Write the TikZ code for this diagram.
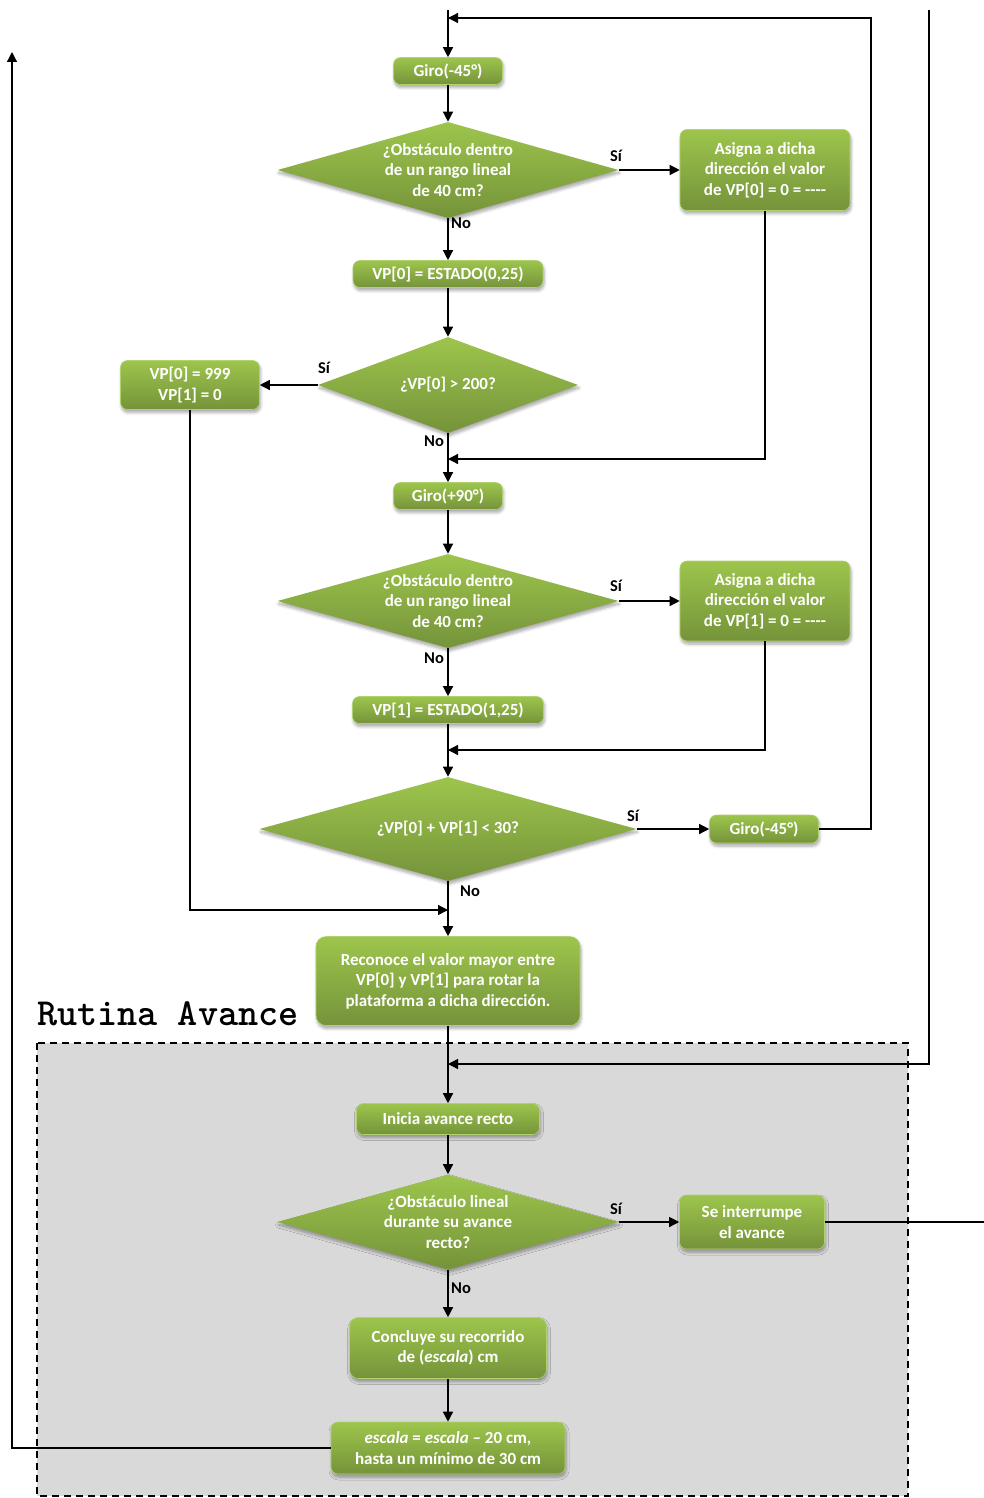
\documentclass[tikz,border=0pt]{standalone}
\usepackage{fontspec}
\setmainfont{Carlito}
\newfontfamily\titlefont{lmmonolt10-bold.otf}
\usetikzlibrary{shapes.geometric,shadows.blur,arrows.meta}
\definecolor{gtop}{HTML}{9DC54C}
\definecolor{gbot}{HTML}{75933A}
\definecolor{gedge}{HTML}{B0D270}
\definecolor{panel}{HTML}{D9D9D9}
\begin{document}
\begin{tikzpicture}[x=1pt,y=-1pt,
  base/.style={top color=gtop,bottom color=gbot,draw=gedge,line width=0.6pt,
    blur shadow={shadow xshift=1pt,shadow yshift=-3pt,shadow opacity=35,shadow blur steps=6,shadow blur radius=3pt}},
  box/.style={base,rounded corners=7pt,inner sep=1pt,align=center,text=white,
    font=\fontsize{17}{20.5}\selectfont\bfseries},
  dia/.style={base,diamond,draw=none,inner sep=0pt},
  dtxt/.style={text=white,align=center,font=\fontsize{17}{20.5}\selectfont\bfseries},
  arr/.style={line width=1.3pt,-{Triangle[length=10pt,width=10pt]}},
  ln/.style={line width=1.3pt},
  lab/.style={font=\fontsize{16.5}{18}\selectfont\bfseries,inner sep=0pt}
]
\useasboundingbox (0,0) rectangle (984,1498);
% panel
\draw[fill=panel,line width=1.3pt,dash pattern=on 7pt off 5pt] (37,1043) rectangle (908,1496);
\node[font=\titlefont\fontsize{38.3}{40}\selectfont,anchor=base west,inner sep=0pt] (title) at (37,1025) {Rutina Avance};

% nodes
\node[box,minimum width=109pt,minimum height=27pt] (g1) at (448,71) {Giro(-45°)};
\node[dia,minimum width=341pt,minimum height=96pt,
  label={[dtxt]center:{¿Obstáculo dentro\\de un rango lineal\\de 40 cm?}}] (d1) at (448,170) {};
\node[box,minimum width=170pt,minimum height=81pt] (a1) at (765,170) {Asigna a dicha\\dirección el valor\\de VP[0] = 0 = -{}-{}-{}-};
\node[box,minimum width=190pt,minimum height=27pt] (e0) at (448,274) {VP[0] = ESTADO(0,25)};
\node[dia,minimum width=260pt,minimum height=96pt,
  label={[dtxt]center:{¿VP[0] > 200?}}] (d2) at (448,385) {};
\node[box,minimum width=139pt,minimum height=49pt] (vp) at (190,385) {VP[0] = 999\\VP[1] = 0};
\node[box,minimum width=109pt,minimum height=27pt] (g2) at (448,496) {Giro(+90°)};
\node[dia,minimum width=341pt,minimum height=94pt,
  label={[dtxt]center:{¿Obstáculo dentro\\de un rango lineal\\de 40 cm?}}] (d3) at (448,601) {};
\node[box,minimum width=170pt,minimum height=80pt] (a2) at (765,601) {Asigna a dicha\\dirección el valor\\de VP[1] = 0 = -{}-{}-{}-};
\node[box,minimum width=191pt,minimum height=27pt] (e1) at (448,710) {VP[1] = ESTADO(1,25)};
\node[dia,minimum width=377pt,minimum height=104pt,
  label={[dtxt]center:{¿VP[0] + VP[1] < 30?}}] (d4) at (448,829) {};
\node[box,minimum width=109pt,minimum height=28pt] (g3) at (764,829) {Giro(-45°)};
\node[box,minimum width=264pt,minimum height=89pt,rounded corners=10pt] (rec) at (448,981) {Reconoce el valor mayor entre\\VP[0] y VP[1] para rotar la\\plataforma a dicha dirección.};
\node[box,minimum width=183pt,minimum height=31pt] (ini) at (448,1119) {Inicia avance recto};
\node[dia,minimum width=341pt,minimum height=95pt,
  label={[dtxt]center:{¿Obstáculo lineal\\durante su avance\\recto?}}] (d5) at (448,1222) {};
\node[box,minimum width=145pt,minimum height=54pt] (se) at (752,1222) {Se interrumpe\\el avance};
\node[box,minimum width=197pt,minimum height=61pt,rounded corners=9pt] (con) at (448,1348) {Concluye su recorrido\\de (\textit{escala}) cm};
\node[box,minimum width=234pt,minimum height=52pt] (esc) at (448,1448) {\textit{escala} = \textit{escala} – 20 cm,\\hasta un mínimo de 30 cm};

% coordinates
\coordinate (top) at (448,10);
\coordinate (j0) at (448,18);
\coordinate (r0) at (871,18);
\coordinate (j1) at (448,459);
\coordinate (j2) at (448,750);
\coordinate (j3) at (448,910);
\coordinate (t2) at (929,10);
\coordinate (j5) at (448,1064);
\coordinate (ex) at (984,1222);
\coordinate (l1) at (12,52);

% connectors
\draw[arr] (top) -- (g1.north);
\draw[arr] (g1) -- (d1.north);
\draw[arr] (d1.east) -- (a1.west);
\draw[arr] (d1.south) -- (e0.north);
\draw[arr] (e0) -- (d2.north);
\draw[arr] (d2.west) -- (vp.east);
\draw[arr] (d2.south) -- (g2.north);
\draw[arr] (a1.south) |- (j1);
\draw[arr] (g2) -- (d3.north);
\draw[arr] (d3.east) -- (a2.west);
\draw[arr] (d3.south) -- (e1.north);
\draw[arr] (e1) -- (d4.north);
\draw[arr] (a2.south) |- (j2);
\draw[arr] (d4.east) -- (g3.west);
\draw[arr] (g3.east) -| (r0) -- (j0);
\draw[arr] (d4.south) -- (rec.north);
\draw[arr] (vp.south) |- (j3);
\draw[arr] (rec) -- (ini.north);
\draw[arr] (t2) |- (j5);
\draw[arr] (ini) -- (d5.north);
\draw[arr] (d5.east) -- (se.west);
\draw[ln] (se.east) -- (ex);
\draw[arr] (d5.south) -- (con.north);
\draw[arr] (con) -- (esc.north);
\draw[arr] (esc.west) -| (l1);

% labels
\node[lab] (s1) at (616,156) {Sí};
\node[lab] (n1) at (461,223) {No};
\node[lab] (s2) at (324,368) {Sí};
\node[lab] (n2) at (434,441) {No};
\node[lab] (s3) at (616,586) {Sí};
\node[lab] (n3) at (434,658) {No};
\node[lab] (s4) at (633,816) {Sí};
\node[lab] (n4) at (470,891) {No};
\node[lab] (s5) at (616,1209) {Sí};
\node[lab] (n5) at (461,1288) {No};
\end{tikzpicture}
\end{document}
